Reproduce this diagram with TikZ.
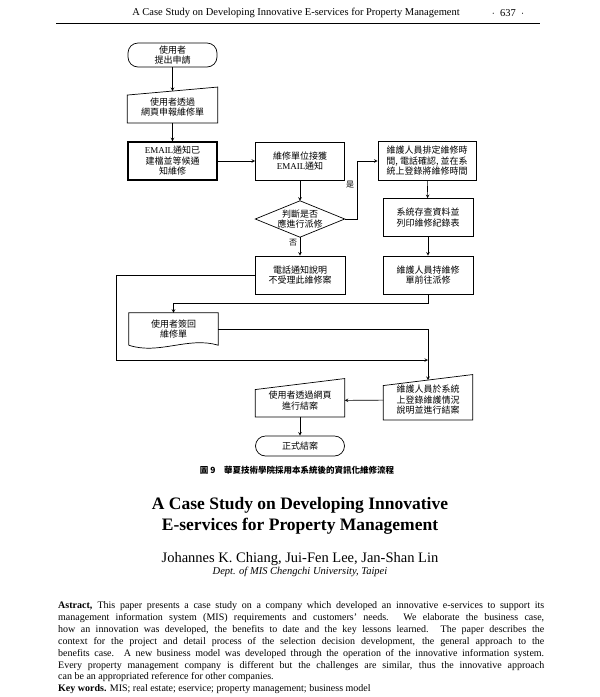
\documentclass[tikz,border=0pt]{standalone}
\usepackage{fontspec}
\setmainfont{Liberation Serif}
\newfontfamily\cjk{Noto Sans CJK TC}

\begin{document}
\begin{tikzpicture}[x=1pt,y=-1pt,>=stealth,
  flowtext/.style={font=\cjk\fontsize{9}{10.5}\selectfont, align=center, inner sep=0pt},
  procbox/.style={flowtext, draw, line width=0.7pt, minimum width=89pt, minimum height=38pt},
  termbox/.style={flowtext, draw, line width=0.7pt, rounded corners=10pt, minimum width=89pt},
  inbox/.style={flowtext, minimum width=89pt},
  outline/.style={line width=0.7pt},
  flowline/.style={line width=0.6pt}
]
\useasboundingbox (0,0) rectangle (600,697);

% running head
\node (head) at (296,13) {\fontsize{10.5}{12}\selectfont A Case Study on Developing Innovative E-services for Property Management};
\node (pageno) at (508,13) {\fontsize{10.5}{12}\selectfont $\cdot$\ \ 637\ \ $\cdot$};
\draw[line width=0.6pt] (56,23) -- (540,23);

% flow chart
\node[termbox, minimum height=24pt] (start) at (172.5,55) {使用者\\提出申請};
\node[inbox, minimum width=90pt, minimum height=31.5pt] (webform) at (172.5,107) {使用者透過\\網頁申報維修單};
\draw[outline] (webform.south west) -- (webform.south east) -- ([yshift=4pt]webform.north east) -- ([yshift=-4pt]webform.north west) -- cycle;
\node[procbox, line width=1.3pt] (mailack) at (172.5,161) {\textrm{EMAIL}通知已\\建檔並等候通\\知維修};
\node[procbox] (unitmail) at (300,161) {維修單位接獲\\\textrm{EMAIL}通知};
\node[inbox, minimum height=36pt] (judge) at (300,219) {判斷是否\\應進行派修};
\draw[outline] (judge.north) -- (judge.east) -- (judge.south) -- (judge.west) -- cycle;
\node[procbox, minimum width=90pt] (refuse) at (300,275) {電話通知說明\\不受理此維修案};
\node[procbox, minimum width=98pt, minimum height=39pt] (schedule) at (427,161) {維護人員排定維修時\\間, 電話確認, 並在系\\統上登錄將維修時間};
\node[procbox, minimum width=90pt] (record) at (428,217.5) {系統存查資料並\\列印維修紀錄表};
\node[procbox, minimum width=90pt] (dispatch) at (428,275) {維護人員持維修\\單前往派修};
\node[inbox, minimum height=32pt] (signback) at (173.5,329) {使用者簽回\\維修單};
\draw[outline] (signback.south west) -- (signback.north west) -- (signback.north east) -- (signback.south east)
  .. controls +(-30,-9) and +(30,10) .. (signback.south west);
\node[inbox, minimum height=39.5pt] (staffclose) at (428,400) {維護人員於系統\\上登錄維護情況\\說明並進行結案};
\draw[outline] (staffclose.south west) -- (staffclose.south east) -- ([yshift=5.5pt]staffclose.north east) -- ([yshift=-5.5pt]staffclose.north west) -- cycle;
\node[inbox, minimum height=32.5pt] (userclose) at (300,400.5) {使用者透過網頁\\進行結案};
\draw[outline] (userclose.south west) -- (userclose.south east) -- ([yshift=5.5pt]userclose.north east) -- ([yshift=-5.5pt]userclose.north west) -- cycle;
\node[termbox, minimum height=20pt] (finish) at (300,446) {正式結案};

\node[font=\cjk\fontsize{8}{9}\selectfont] (yes) at (350,185) {是};
\node[font=\cjk\fontsize{8}{9}\selectfont] (no) at (293,243) {否};
\coordinate (loopc) at (116,360);

\draw[flowline,->] (start) -- (webform.north);
\draw[flowline,->] (webform) -- (mailack);
\draw[flowline,->] (mailack) -- (unitmail);
\draw[flowline,->] (unitmail) -- (judge.north);
\draw[flowline,->] (judge.east) -- ++(13,0) |- (schedule.west);
\draw[flowline,->] (judge.south) -- (refuse);
\draw[flowline,->] (schedule) -- (record);
\draw[flowline,->] (record) -- (dispatch);
\draw[flowline,->] (dispatch.south) -- ++(0,9) -| (signback.north);
\draw[flowline,->] (signback.east) -| (staffclose.north);
\draw[flowline,->] (refuse.west) -| (loopc) -- (loopc -| staffclose.north);
\draw[flowline,->] (staffclose) -- (userclose);
\draw[flowline,->] (userclose) -- (finish);

% caption
\node[font=\cjk\bfseries\fontsize{8.5}{10}\selectfont] (caption) at (297,470) {圖 9\quad 華夏技術學院採用本系統後的資訊化維修流程};

% english title block
\node[align=center, font=\bfseries\fontsize{17.5}{21.5}\selectfont] (title) at (300,516) {A Case Study on Developing Innovative\\E-services for Property Management};
\node[font=\fontsize{14.5}{16}\selectfont] (authors) at (300,559) {Johannes K. Chiang, Jui-Fen Lee, Jan-Shan Lin};
\node[font=\itshape\fontsize{10.5}{12}\selectfont] (dept) at (300,572) {Dept. of MIS Chengchi University, Taipei};
\node[anchor=north west, text width=486pt, align=justify, inner sep=0pt, font=\fontsize{10}{11.9}\selectfont] (abstract) at (58,600) {\strut\textbf{Astract,} This paper presents a case study on a company which developed an innovative e-services to support its\linebreak
management information system (MIS) requirements and customers' needs. We elaborate the business case,\linebreak
how an innovation was developed, the benefits to date and the key lessons learned. The paper describes the\linebreak
context for the project and detail process of the selection decision development, the general approach to the\linebreak
benefits case. A new business model was developed through the operation of the innovative information system.\linebreak
Every property management company is different but the challenges are similar, thus the innovative approach\linebreak
can be an appropriated reference for other companies.\\
\textbf{Key words.} MIS; real estate; eservice; property management; business model};
\end{tikzpicture}
\end{document}
